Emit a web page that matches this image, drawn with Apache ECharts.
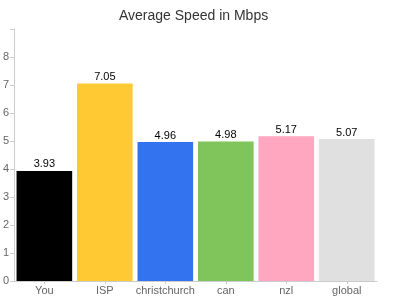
<!DOCTYPE html>
<html><head><meta charset="utf-8">
<script src="https://cdn.jsdelivr.net/npm/echarts@6/dist/echarts.min.js"></script>
<style>html,body{margin:0;padding:0;background:#fff}#c{width:410px;height:300px}</style>
</head><body><div id="c"></div>
<script>
const categories = ['You', 'ISP', 'christchurch', 'can', 'nzl', 'global'];
const speeds = [3.93, 7.05, 4.96, 4.98, 5.17, 5.07];
const barColors = ['#000000', '#ffc933', '#3373f0', '#80c55c', '#ffa6c1', '#e0e0e0'];
const yTicks = [0, 1, 2, 3, 4, 5, 6, 7, 8];

const chart = echarts.init(document.getElementById('c'), null, {renderer: 'canvas'});
chart.setOption({
  animation: false,
  textStyle: {fontFamily: 'Liberation Sans'},
  title: {
    text: 'Average Speed in Mbps', left: 114, top: 4,
    textStyle: {fontSize: 14, fontWeight: 'normal', color: '#333', fontFamily: 'Liberation Sans'}
  },
  grid: {left: 11, right: 33, top: 29, bottom: 19, containLabel: false},
  xAxis: {
    type: 'category', data: categories,
    axisLine: {lineStyle: {color: '#ccc'}},
    axisTick: {show: true, alignWithLabel: true, length: 3, lineStyle: {color: '#ccc'}},
    axisLabel: {color: '#666', fontSize: 11, margin: 4, interval: 0}
  },
  yAxis: {
    type: 'value', min: 0, max: 9, interval: 1,
    splitLine: {show: false},
    axisLine: {show: true, lineStyle: {color: '#ccc'}},
    axisTick: {show: true, length: 4, lineStyle: {color: '#ccc'}},
    axisLabel: {color: '#666', fontSize: 11, margin: 5,
      formatter: v => yTicks.indexOf(v) >= 0 ? String(v) : ''}
  },
  series: [{
    type: 'bar',
    data: speeds.map((v, i) => ({value: v, itemStyle: {color: barColors[i]}})),
    barCategoryGap: '8%',
    label: {show: true, position: 'top', distance: 1, color: '#000', fontSize: 11,
      formatter: p => p.value.toFixed(2)}
  }]
});
</script></body></html>
